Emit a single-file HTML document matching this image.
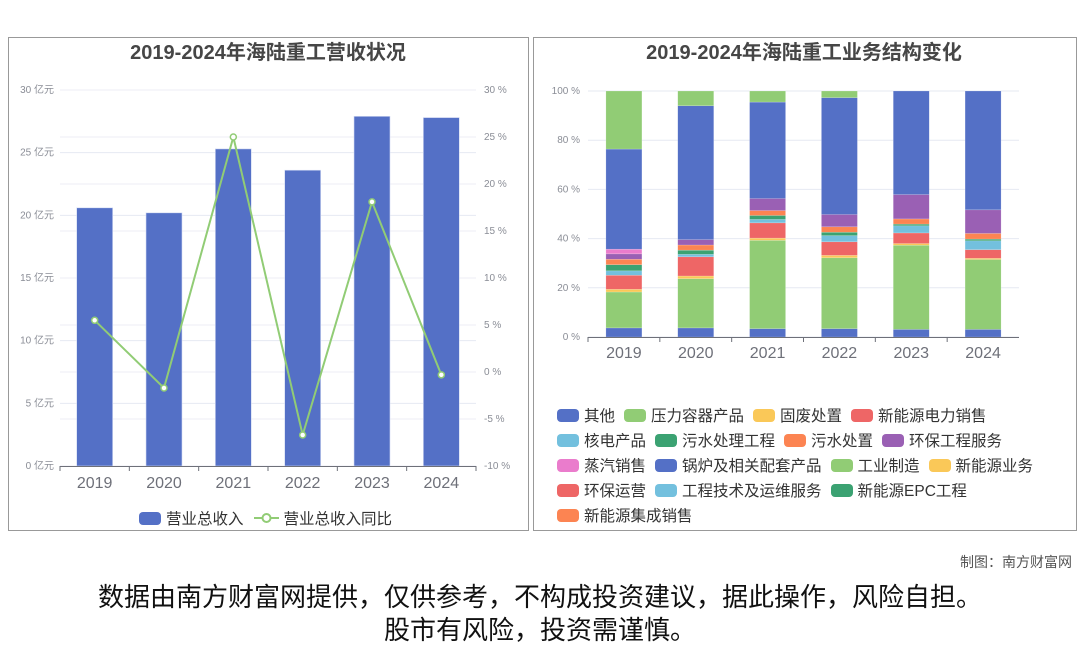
<!DOCTYPE html>
<html><head><meta charset="utf-8">
<style>
body{margin:0;width:1080px;height:646px;overflow:hidden;background:#fff;font-family:"Liberation Sans","Noto Sans CJK SC",sans-serif;position:relative}
svg{position:absolute;left:0;top:0}
.leg{position:absolute;display:flex;align-items:center;font-size:15px;color:#333;white-space:nowrap;font-family:"Liberation Sans","Noto Sans CJK SC",sans-serif}
.row{position:absolute;left:557px;display:flex;gap:9px;height:20px}
.it{display:flex;align-items:center;gap:5px;font-size:15.5px;color:#333;font-family:"Liberation Sans","Noto Sans CJK SC",sans-serif}
.mk{width:22px;height:13px;border-radius:4px;display:inline-block}
.foot{position:absolute;width:1080px;text-align:center;font-size:26px;line-height:30px;color:#111;font-family:"Liberation Sans","Noto Sans CJK SC",sans-serif}
</style></head><body>
<svg width="1080" height="646" id="svg">
<rect x="8.5" y="37.5" width="520" height="493" fill="none" stroke="#999"/>
<rect x="533.5" y="37.5" width="543" height="493" fill="none" stroke="#999"/>
<text x="268" y="59" text-anchor="middle" font-size="20" font-weight="bold" fill="#464646" font-family="Liberation Sans,Noto Sans CJK SC,sans-serif">2019-2024年海陆重工营收状况</text>
<text x="804" y="59" text-anchor="middle" font-size="20" font-weight="bold" fill="#464646" font-family="Liberation Sans,Noto Sans CJK SC,sans-serif">2019-2024年海陆重工业务结构变化</text>
<g id="left"></g><g id="right"></g>
</svg>
<div class="leg" style="left:139px;top:507px">
 <span class="it"><span class="mk" style="background:#5470c6"></span>营业总收入</span>
 <span class="it" style="margin-left:10px"><svg width="25" height="14" style="position:static"><line x1="0" y1="7" x2="25" y2="7" stroke="#91cc75" stroke-width="2"/><circle cx="12.5" cy="7" r="4" fill="#fff" stroke="#91cc75" stroke-width="2"/></svg>营业总收入同比</span>
</div>
<div id="rleg"></div>
<div style="position:absolute;right:8px;top:552px;font-size:14px;color:#555">制图：南方财富网</div>
<div class="foot" style="top:582px">数据由南方财富网提供，仅供参考，不构成投资建议，据此操作，风险自担。</div>
<div class="foot" style="top:615px">股市有风险，投资需谨慎。</div>
<script>
const years=['2019','2020','2021','2022','2023','2024'];
const revenue=[20.6,20.2,25.3,23.6,27.9,27.8];
const yoy=[5.5,-1.7,25.0,-6.7,18.1,-0.3];
const leftTicks=[0,5,10,15,20,25,30];
const rightTicks=[-10,-5,0,5,10,15,20,25,30];
const seriesNames=['其他','压力容器产品','固废处置','新能源电力销售','核电产品','污水处理工程','污水处置','环保工程服务','蒸汽销售','锅炉及相关配套产品','工业制造','新能源业务','环保运营','工程技术及运维服务','新能源EPC工程','新能源集成销售'];
const s0=[3.7,3.7,3.4,3.4,3.1,3.1];
const s1=[14.6,20.0,35.9,28.8,34.2,28.4];
const s2=[1.1,1.1,0.9,1.0,0.7,0.5];
const s3=[5.7,7.8,6.2,5.5,4.3,3.5];
const s4=[1.8,1.0,1.4,2.5,2.9,3.6];
const s5=[2.5,1.7,1.6,1.4,0.7,0.7];
const s6=[2.2,2.1,2.0,2.2,2.1,2.3];
const s7=[2.2,2.2,4.9,5.0,9.9,9.6];
const s8=[1.9,0,0,0,0,0];
const s9=[40.7,54.4,39.2,47.5,42.1,48.3];
const s10=[23.6,6.0,4.5,2.7,0,0];
const s11=[0,0,0,0,0,0],s12=[0,0,0,0,0,0],s13=[0,0,0,0,0,0],s14=[0,0,0,0,0,0],s15=[0,0,0,0,0,0];
const pctTicks=[0,20,40,60,80,100];
const colors=['#5470c6','#91cc75','#fac858','#ee6666','#73c0de','#3ba272','#fc8452','#9a60b4','#ea7ccc','#5470c6','#91cc75','#fac858','#ee6666','#73c0de','#3ba272','#fc8452'];
const NS='http://www.w3.org/2000/svg';
function mk(p,tag,a){const e=document.createElementNS(NS,tag);for(const k in a)e.setAttribute(k,a[k]);p.appendChild(e);return e;}
const F='Liberation Sans,Noto Sans CJK SC,sans-serif';
const L=document.getElementById('left');
const lx0=60,lx1=476,ly0=466,ly1=90;
const yL=v=>ly0-(v/30)*(ly0-ly1);
const yR=v=>ly0-((v+10)/40)*(ly0-ly1);
const bw=(lx1-lx0)/years.length;
const xc=i=>lx0+bw*(i+0.5);
leftTicks.forEach(t=>{const g=mk(L,'line',{x1:lx0,x2:lx1,y1:yL(t),y2:yL(t),stroke:'#e6e9f2'});

const tx=mk(L,'text',{x:54,y:yL(t)+3,'text-anchor':'end','font-size':10,fill:'#8a8d96','font-family':F});tx.textContent=t+' 亿元';
});
rightTicks.forEach(t=>{const g=mk(L,'line',{x1:lx0,x2:lx1,y1:yR(t),y2:yR(t),stroke:'#eceef5'});

const tx=mk(L,'text',{x:484,y:yR(t)+3,'font-size':10,fill:'#8a8d96','font-family':F});tx.textContent=t+' %';
});
revenue.forEach((v,i)=>{const r=mk(L,'rect',{x:xc(i)-18,y:yL(v),width:36,height:ly0-yL(v),fill:'#5470c6',stroke:'#d6ddf4','stroke-width':0.6});
});
const ax=mk(L,'line',{x1:lx0,x2:lx1,y1:ly0+.5,y2:ly0+.5,stroke:'#6e7079'});
years.forEach((y,i)=>{mk(L,'line',{x1:lx0+bw*i,x2:lx0+bw*i,y1:ly0,y2:ly0+5,stroke:'#6e7079'});
const tx=mk(L,'text',{x:xc(i),y:488,'text-anchor':'middle','font-size':16,fill:'#6e7079','font-family':F});tx.textContent=y;
});
mk(L,'line',{x1:lx1,x2:lx1,y1:ly0,y2:ly0+5,stroke:'#6e7079'});
const pl=mk(L,'polyline',{points:yoy.map((v,i)=>xc(i)+','+yR(v)).join(' '),fill:'none',stroke:'#91cc75','stroke-width':2});

yoy.forEach((v,i)=>{const c=mk(L,'circle',{cx:xc(i),cy:yR(v),r:3,fill:'#fff',stroke:'#91cc75','stroke-width':1.5});
});
const R=document.getElementById('right');
const rx0=588,rx1=1019,ry0=337,ry1=91;
const yP=v=>ry0-(v/100)*(ry0-ry1);
const rw=(rx1-rx0)/years.length;
const rc=i=>rx0+rw*(i+0.5);
pctTicks.forEach(t=>{const g=mk(R,'line',{x1:rx0,x2:rx1,y1:yP(t),y2:yP(t),stroke:'#e6e9f2'});

const tx=mk(R,'text',{x:580,y:yP(t)+3,'text-anchor':'end','font-size':10,fill:'#8a8d96','font-family':F});tx.textContent=t+' %';
});
const series=[s0,s1,s2,s3,s4,s5,s6,s7,s8,s9,s10,s11,s12,s13,s14,s15];
years.forEach((y,i)=>{let acc=0;series.forEach((s,k)=>{const v=s[i];if(v<=0)return;
const r=mk(R,'rect',{x:rc(i)-18,y:yP(acc+v),width:36,height:yP(acc)-yP(acc+v),fill:colors[k],stroke:'rgba(255,255,255,0.35)','stroke-width':0.5});
acc+=v;});});
const ax2=mk(R,'line',{x1:rx0,x2:rx1,y1:ry0+.5,y2:ry0+.5,stroke:'#6e7079'});
years.forEach((y,i)=>{mk(R,'line',{x1:rx0+rw*i,x2:rx0+rw*i,y1:ry0,y2:ry0+5,stroke:'#6e7079'});
const tx=mk(R,'text',{x:rc(i),y:358,'text-anchor':'middle','font-size':16,fill:'#6e7079','font-family':F});tx.textContent=y;
});
const rows=[[0,1,2,3],[4,5,6,7],[8,9,10,11],[12,13,14],[15]];
const LG=document.getElementById('rleg');
rows.forEach((r,ri)=>{const d=document.createElement('div');d.className='row';d.style.top=(405+ri*25)+'px';


r.forEach(k=>{const s=document.createElement('span');s.className='it';


s.innerHTML='<span class="mk" style="background:'+colors[k]+'"></span>'+seriesNames[k];d.appendChild(s);});
LG.appendChild(d);});
</script>
</body></html>
